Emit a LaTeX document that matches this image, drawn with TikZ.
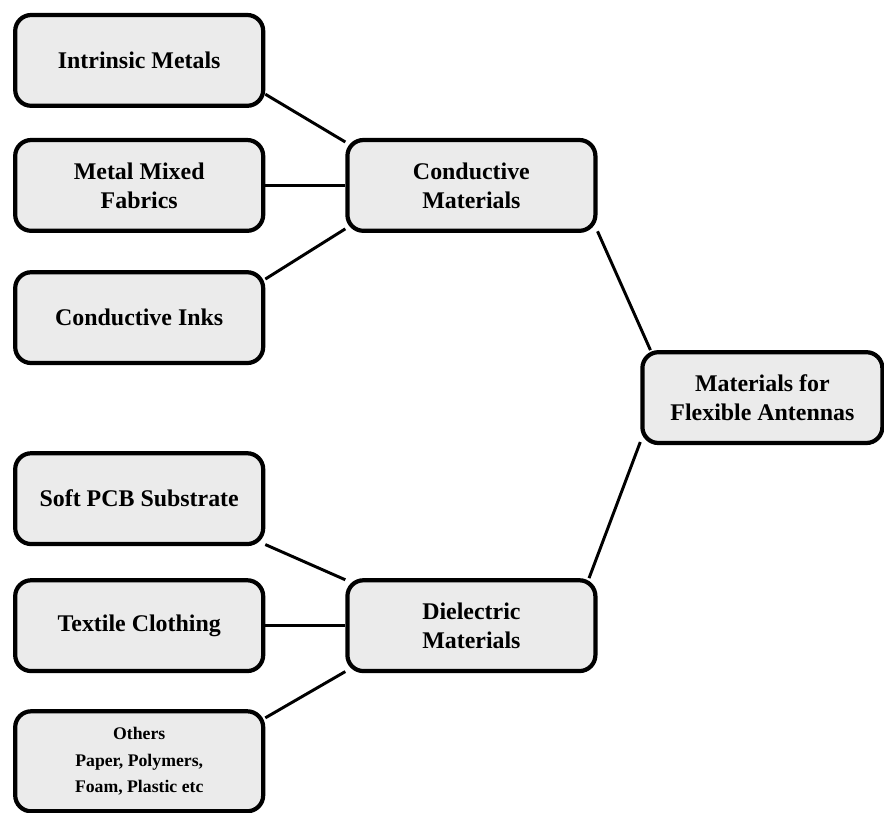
\documentclass[tikz,border=0pt]{standalone}
\usepackage{fontspec}
\setmainfont{Liberation Serif}
\usetikzlibrary{positioning}
\definecolor{boxgray}{HTML}{EBEBEB}
\tikzset{
  matbox/.style={
    draw=black,
    line width=3pt,
    rounded corners=0.4cm,
    fill=boxgray,
    minimum width=6.2cm,
    minimum height=2.27cm,
    align=center,
    font=\fontsize{17}{20.6}\selectfont\bfseries
  },
  smalltext/.style={font=\fontsize{12.6}{18.6}\selectfont\bfseries},
  link/.style={line width=2.1pt,draw=black}
}

\begin{document}
\begin{tikzpicture}
\useasboundingbox (0,0) rectangle (22.1,-20.325);
\node[matbox] (intr) at (3.48,-1.51) {Intrinsic Metals};
\node[matbox,below=0.75cm of intr] (mixed) {Metal Mixed\\Fabrics};
\node[matbox,below=0.93cm of mixed] (inks) {Conductive Inks};
\node[matbox,below=2.15cm of inks] (soft) {Soft PCB Substrate};
\node[matbox,below=0.8cm of soft] (textile) {Textile Clothing};
\node[matbox,smalltext,below=0.9cm of textile,minimum height=2.5cm] (others) {Others\\Paper, Polymers,\\Foam, Plastic etc};
\node[matbox,right=2cm of mixed] (cond) {Conductive\\Materials};
\node[matbox,right=2cm of textile] (diel) {Dielectric\\Materials};
\node[matbox,minimum width=6cm] (root) at (19.06,-9.94) {Materials for\\Flexible Antennas};
\draw[link] (intr.-15) -- (cond.161);
\draw[link] (mixed.east) -- (cond.west);
\draw[link] (inks.17) -- (cond.199);
\draw[link] (cond.-20) -- (root.157);
\draw[link] (root.200) -- (diel.22);
\draw[link] (soft.-20) -- (diel.160);
\draw[link] (textile.east) -- (diel.west);
\draw[link] (others.19) -- (diel.200);
\end{tikzpicture}
\end{document}
